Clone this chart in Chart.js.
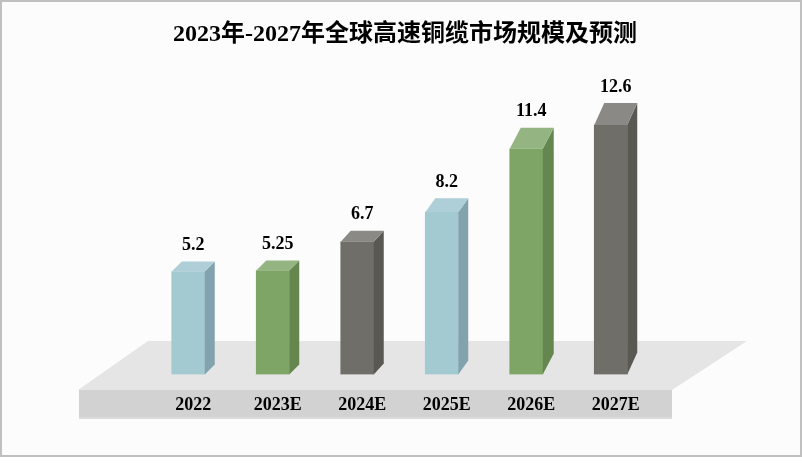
<!DOCTYPE html>
<html lang="zh">
<head>
    <meta charset="UTF-8">
    <title>2023年-2027年全球高速铜缆市场规模及预测</title>
    <script src="https://cdn.jsdelivr.net/npm/chart.js@4/dist/chart.umd.min.js"></script>
    <style>
        html, body { margin: 0; padding: 0; background: #ffffff; }
        #wrap { width: 802px; height: 466px; }
    </style>
</head>
<body>
    <div id="wrap"><canvas id="copperChart" width="802" height="466"></canvas></div>

    <script>
        var categories = ['2022', '2023E', '2024E', '2025E', '2026E', '2027E'];
        var marketSize = [5.2, 5.25, 6.7, 8.2, 11.4, 12.6];
        var valueLabels = ['5.2', '5.25', '6.7', '8.2', '11.4', '12.6'];

        // colours of the three visible faces of each bar
        var frontColors = ['#a3c9d1', '#7ea565', '#6f6e69', '#a3c9d1', '#7ea565', '#6f6e69'];
        var sideColors = ['#82a3ad', '#668650', '#595853', '#82a3ad', '#668650', '#595853'];
        var topColors = ['#aecfd7', '#94b581', '#8a8985', '#aecfd7', '#94b581', '#8a8985'];

        // the "3D" depth differs from bar to bar in the reference
        var depthX = [10, 10, 10, 10, 11, 10];
        var depthY = [10, 10, 11, 14, 21, 22];

        var serif = '"Liberation Serif", "Noto Sans CJK SC", serif';

        function poly(ctx, pts, color) {
            ctx.fillStyle = color;
            ctx.beginPath();
            ctx.moveTo(pts[0][0], pts[0][1]);
            for (var i = 1; i < pts.length; i++) ctx.lineTo(pts[i][0], pts[i][1]);
            ctx.closePath();
            ctx.fill();
        }

        // picture frame and the grey platform behind the bars
        var stagePlugin = {
            id: 'stage',
            beforeDraw: function (chart) {
                var ctx = chart.ctx;
                ctx.save();
                ctx.fillStyle = '#fcfcfc';
                ctx.fillRect(0, 0, 802, 457);
                ctx.strokeStyle = '#c0c0c0';
                ctx.lineWidth = 2;
                ctx.strokeRect(1, 1, 800, 455);
                poly(ctx, [[78, 390], [148, 341], [747, 341], [672, 390]], '#e5e5e5');
                ctx.fillStyle = '#d2d2d2';
                ctx.fillRect(79, 390, 593, 27);
                ctx.fillStyle = '#dcdcdc';
                ctx.fillRect(79, 417, 593, 2);
                ctx.restore();
            }
        };

        // side and top faces, plus the value labels, taken from the bar elements
        var depthPlugin = {
            id: 'depth',
            afterDatasetsDraw: function (chart) {
                var ctx = chart.ctx;
                var bars = chart.getDatasetMeta(0).data;
                ctx.save();
                bars.forEach(function (bar, i) {
                    var l = bar.x - bar.width / 2;
                    var r = bar.x + bar.width / 2;
                    var dx = depthX[i];
                    var dy = depthY[i];
                    poly(ctx, [[r, bar.y], [r + dx, bar.y - dy], [r + dx, bar.base - dy], [r, bar.base]], sideColors[i]);
                    poly(ctx, [[l, bar.y], [l + dx, bar.y - dy], [r + dx, bar.y - dy], [r, bar.y]], topColors[i]);
                    ctx.fillStyle = '#000000';
                    ctx.font = 'bold 18px ' + serif;
                    ctx.textAlign = 'center';
                    ctx.textBaseline = 'middle';
                    ctx.fillText(valueLabels[i], bar.x + 5, bar.y - dy - 16);
                });
                ctx.restore();
            }
        };

        var ctx = document.getElementById('copperChart').getContext('2d');
        var myChart = new Chart(ctx, {
            type: 'bar',
            data: {
                labels: categories,
                datasets: [{
                    data: marketSize,
                    backgroundColor: frontColors,
                    borderWidth: 0,
                    barThickness: 33
                }]
            },
            options: {
                responsive: false,
                animation: false,
                layout: { padding: { left: 8, right: 0, top: 0, bottom: 38 } },
                plugins: {
                    legend: { display: false },
                    tooltip: { enabled: false },
                    title: {
                        display: true,
                        text: '2023年-2027年全球高速铜缆市场规模及预测',
                        color: '#000000',
                        font: { family: serif, size: 24, weight: 'bold' },
                        padding: { top: 20, bottom: 9 }
                    }
                },
                scales: {
                    x: {
                        grid: { display: false },
                        border: { display: false },
                        ticks: {
                            color: '#000000',
                            font: { family: serif, size: 18, weight: 'bold' },
                            padding: 12,
                            labelOffset: 5,
                            maxRotation: 0
                        }
                    },
                    y: {
                        min: 0,
                        max: 16,
                        grid: { display: false },
                        border: { display: false },
                        ticks: { display: false },
                        afterFit: function (scale) { scale.width = 138; }
                    },
                    // empty axis, only keeps the plot clear of the right side
                    yRight: {
                        position: 'right',
                        grid: { display: false },
                        border: { display: false },
                        ticks: { display: false },
                        afterFit: function (scale) { scale.width = 149; }
                    }
                }
            },
            plugins: [stagePlugin, depthPlugin]
        });
    </script>
</body>
</html>
